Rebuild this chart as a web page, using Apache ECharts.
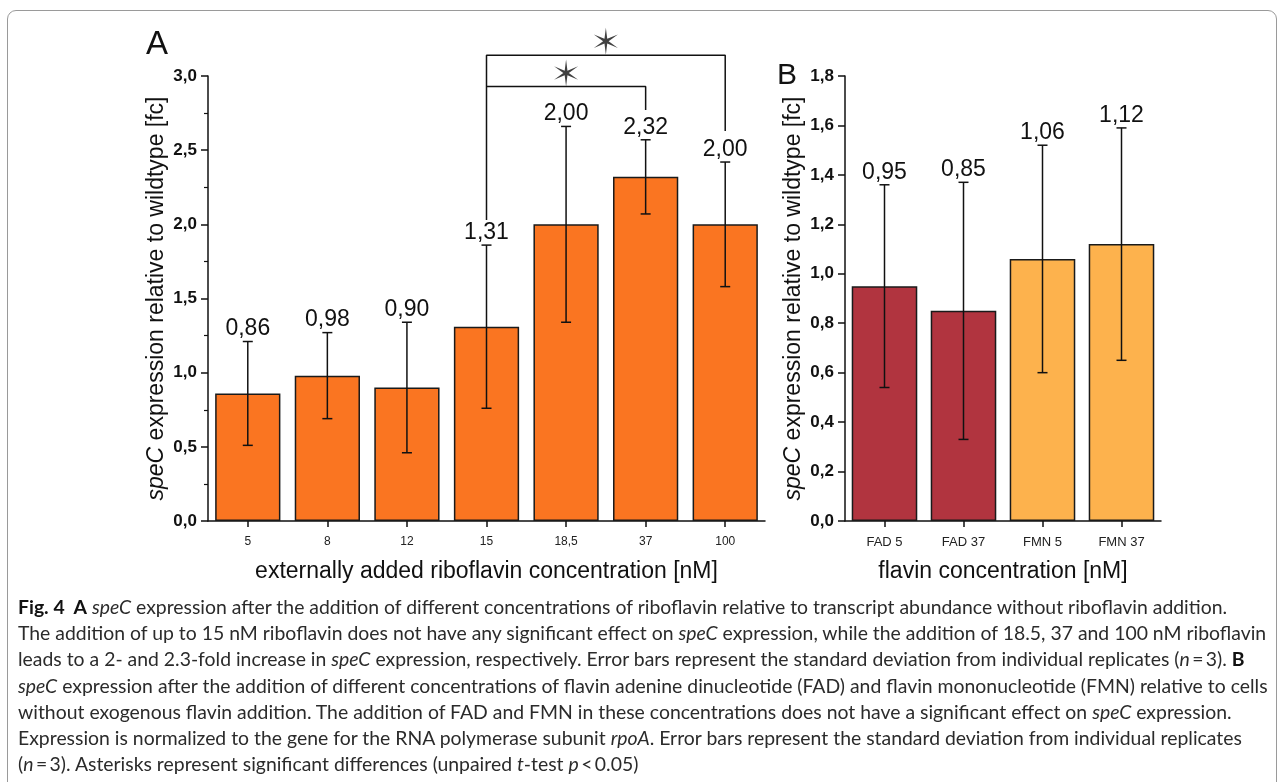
<!DOCTYPE html>
<html>
<head>
<meta charset="utf-8">
<script src="https://cdn.jsdelivr.net/npm/echarts@6/dist/echarts.min.js"></script>
<style>
    html, body { margin: 0; padding: 0; background: #fff; }
    #wrap { position: relative; width: 1284px; height: 782px; overflow: hidden; background: #fff; }
    #frame { position: absolute; left: 7px; top: 10px; width: 1268px; height: 820px; border: 1px solid #9a9a9a; border-radius: 9px; }
    #chart { position: absolute; left: 0; top: 0; width: 1284px; height: 600px; }
    #caption { position: absolute; left: 18px; top: 594px; font-family: Lato, 'Open Sans', sans-serif; color: #2b2b2b; line-height: 26.2px; white-space: nowrap; font-size: 17px; }
    #caption b { color: #111; }
</style>
</head>
<body>
<div id="wrap">
    <div id="frame"></div>
    <div id="chart"></div>
    <div id="caption">
        <div id="cap1"><b>Fig. 4&nbsp; A</b> <i>speC</i> expression after the addition of different concentrations of riboflavin relative to transcript abundance without riboflavin addition.</div>
        <div>The addition of up to 15 nM riboflavin does not have any significant effect on <i>speC</i> expression, while the addition of 18.5, 37 and 100 nM riboflavin</div>
        <div>leads to a 2- and 2.3-fold increase in <i>speC</i> expression, respectively. Error bars represent the standard deviation from individual replicates (<i>n</i>&#8201;=&#8201;3). <b>B</b></div>
        <div><i>speC</i> expression after the addition of different concentrations of flavin adenine dinucleotide (FAD) and flavin mononucleotide (FMN) relative to cells</div>
        <div>without exogenous flavin addition. The addition of FAD and FMN in these concentrations does not have a significant effect on <i>speC</i> expression.</div>
        <div>Expression is normalized to the gene for the RNA polymerase subunit <i>rpoA</i>. Error bars represent the standard deviation from individual replicates</div>
        <div>(<i>n</i>&#8201;=&#8201;3). Asterisks represent significant differences (unpaired <i>t</i>-test <i>p</i>&#8201;&lt;&#8201;0.05)</div>
    </div>
</div>
<script>
// 数据 A：核黄素浓度
var catsA = ['5', '8', '12', '15', '18,5', '37', '100'];
var meanA = [0.86, 0.98, 0.90, 1.31, 2.00, 2.32, 2.00];
var sdA = [0.35, 0.29, 0.44, 0.55, 0.66, 0.25, 0.42];

// 数据 B：FAD / FMN
var catsB = ['FAD 5', 'FAD 37', 'FMN 5', 'FMN 37'];
var meanB = [0.95, 0.85, 1.06, 1.12];
var sdB = [0.41, 0.52, 0.46, 0.47];

// 显著性标记（x 为类目序号）
var bracketOuter = [[3, 2.03], [3, 3.14], [6, 3.14], [6, 2.63]];
var bracketInner = [[3, 2.93], [5, 2.93], [5, 2.77]];
var stars = [[4.5, 3.235], [4, 3.02]];

var orange = '#FA7521';
var colorsB = ['#B1343F', '#B1343F', '#FDB24D', '#FDB24D'];
var font = 'Liberation Sans, Arial, sans-serif';

function fmt(v, d) {
    return v.toFixed(d).replace('.', ',');
}

// 六角星
function starPath() {
    var pts = [];
    for (var k = 0; k < 12; k++) {
        var a = Math.PI / 2 - k * Math.PI / 6;
        var r = k % 2 === 0 ? 10 : 2;
        pts.push((r * Math.cos(a)).toFixed(2) + ' ' + (-r * Math.sin(a)).toFixed(2));
    }
    return 'path://M' + pts.join(' L') + ' Z';
}

function errData(means, sds) {
    return means.map(function (m, i) {
        return [i, m - sds[i], m + sds[i]];
    });
}

function errRender(means) {
    return function (params, api) {
        var x = api.value(0);
        var lo = api.coord([x, api.value(1)]);
        var hi = api.coord([x, api.value(2)]);
        var cap = 5;
        var ls = {stroke: '#111', lineWidth: 1.5};
        return {
            type: 'group',
            children: [
                {type: 'line', shape: {x1: lo[0], y1: lo[1], x2: hi[0], y2: hi[1]}, style: ls},
                {type: 'line', shape: {x1: hi[0] - cap, y1: hi[1], x2: hi[0] + cap, y2: hi[1]}, style: ls},
                {type: 'line', shape: {x1: lo[0] - cap, y1: lo[1], x2: lo[0] + cap, y2: lo[1]}, style: ls},
                {
                    type: 'text',
                    style: {
                        text: fmt(means[params.dataIndex], 2),
                        x: hi[0], y: hi[1] - 1,
                        align: 'center', verticalAlign: 'bottom',
                        fontSize: 23, fontFamily: font,
                        fill: '#111'
                    }
                }
            ]
        };
    };
}

function catAxis(grid, cats, title, size) {
    return {
        type: 'category',
        gridIndex: grid,
        data: cats,
        axisLine: {show: true, onZero: false, lineStyle: {color: '#111', width: 1.5}},
        axisTick: {show: true, alignWithLabel: true, length: 6, lineStyle: {color: '#111', width: 1.5}},
        axisLabel: {fontSize: size, color: '#222', margin: 15, fontFamily: font},
        name: title,
        nameLocation: 'middle',
        nameGap: 39,
        nameTextStyle: {fontSize: 23, color: '#111', fontFamily: font}
    };
}

function valAxis(grid, max, interval, minor) {
    return {
        type: 'value',
        gridIndex: grid,
        min: 0,
        max: max,
        interval: interval,
        axisLine: {show: true, onZero: false, lineStyle: {color: '#111', width: 1.5}},
        axisTick: {show: true, length: 7, lineStyle: {color: '#111', width: 1.5}},
        minorTick: {show: minor, splitNumber: 2, length: 4, lineStyle: {color: '#111', width: 1.2}},
        splitLine: {show: false},
        axisLabel: {
            fontSize: 17, fontWeight: 'bold', color: '#111', margin: 11,
            fontFamily: font,
            formatter: function (v) { return fmt(v, 1); }
        },
        name: '{i|speC} expression relative to wildtype [fc]',
        nameLocation: 'middle',
        nameGap: 40,
        nameTextStyle: {
            fontSize: 23, color: '#111', fontFamily: font,
            rich: {i: {fontSize: 23, fontStyle: 'italic', color: '#111', fontFamily: font}}
        }
    };
}

var myChart = echarts.init(document.getElementById('chart'));

var option = {
    backgroundColor: 'transparent',
    animation: false,
    grid: [
        {left: 208, top: 76, width: 557, height: 445},
        {left: 845, top: 76, width: 316, height: 445}
    ],
    xAxis: [
        catAxis(0, catsA, 'externally added riboflavin concentration [nM]', 12),
        {type: 'value', gridIndex: 0, min: -0.5, max: 6.5, show: false},
        catAxis(1, catsB, 'flavin concentration [nM]', 13)
    ],
    yAxis: [
        valAxis(0, 3, 0.5, true),
        valAxis(1, 1.8, 0.2, false)
    ],
    graphic: [
        {type: 'text', left: 146, top: 28, style: {text: 'A', fontSize: 33, fill: '#111', fontFamily: font}},
        {type: 'text', left: 777, top: 61, style: {text: 'B', fontSize: 30, fill: '#111', fontFamily: font}}
    ],
    series: [
        {
            type: 'bar', xAxisIndex: 0, yAxisIndex: 0,
            data: meanA, barWidth: '82%',
            itemStyle: {color: orange, borderColor: '#1a1a1a', borderWidth: 1.5}
        },
        {
            type: 'custom', xAxisIndex: 0, yAxisIndex: 0,
            data: errData(meanA, sdA), encode: {x: 0, y: [1, 2]},
            renderItem: errRender(meanA), z: 5
        },
        {
            type: 'line', xAxisIndex: 1, yAxisIndex: 0, data: bracketOuter,
            symbol: 'none', clip: false, lineStyle: {color: '#111', width: 1.5}
        },
        {
            type: 'line', xAxisIndex: 1, yAxisIndex: 0, data: bracketInner,
            symbol: 'none', clip: false, lineStyle: {color: '#111', width: 1.5}
        },
        {
            type: 'scatter', xAxisIndex: 1, yAxisIndex: 0, data: stars,
            symbol: starPath(), symbolSize: [24, 27], clip: false,
            itemStyle: {color: '#111'}
        },
        {
            type: 'bar', xAxisIndex: 2, yAxisIndex: 1,
            data: meanB.map(function (v, i) {
                return {value: v, itemStyle: {color: colorsB[i]}};
            }),
            barWidth: '83%',
            itemStyle: {borderColor: '#1a1a1a', borderWidth: 1.5}
        },
        {
            type: 'custom', xAxisIndex: 2, yAxisIndex: 1,
            data: errData(meanB, sdB), encode: {x: 0, y: [1, 2]},
            renderItem: errRender(meanB), z: 5
        }
    ]
};
myChart.setOption(option);

// 图注字号按首行宽度调整
var cap1 = document.getElementById('cap1');
var span = document.createElement('span');
span.innerHTML = cap1.innerHTML;
span.style.whiteSpace = 'nowrap';
cap1.innerHTML = '';
cap1.appendChild(span);
var fs = 17 * 1210 / span.getBoundingClientRect().width;
document.getElementById('caption').style.fontSize = fs.toFixed(2) + 'px';
</script>
</body>
</html>
